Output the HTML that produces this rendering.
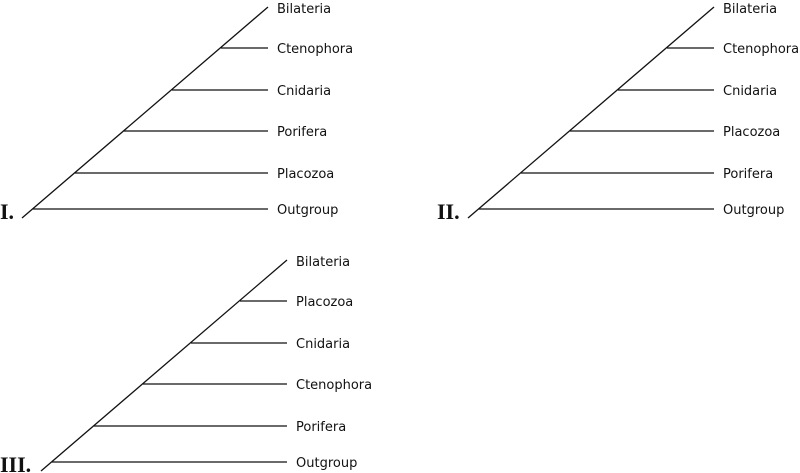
<!DOCTYPE html>
<html><head><meta charset="utf-8"><style>
html,body{margin:0;padding:0;background:#fff;width:800px;height:473px;overflow:hidden}
svg text{font-family:"DejaVu Sans","Liberation Sans",sans-serif;font-size:13px;fill:#111}
svg text.n{font-family:"Liberation Serif",serif;font-weight:bold;font-size:22px}
</style></head><body>
<svg width="800" height="473" viewBox="0 0 800 473">
<defs>
<g id="t" stroke="#111" stroke-width="1.3" fill="none">
<line x1="22" y1="218" x2="268" y2="7"/>
<line x1="33" y1="209" x2="268" y2="209"/>
<line x1="75" y1="173" x2="268" y2="173"/>
<line x1="124" y1="131" x2="268" y2="131"/>
<line x1="172" y1="90" x2="268" y2="90"/>
<line x1="221" y1="48" x2="268" y2="48"/>
</g>
</defs>
<use href="#t"/>
<use href="#t" transform="translate(446,0)"/>
<use href="#t" transform="translate(19,253)"/>
<g>
<text x="277" y="13">Bilateria</text>
<text x="277" y="53">Ctenophora</text>
<text x="277" y="95">Cnidaria</text>
<text x="277" y="136">Porifera</text>
<text x="277" y="178">Placozoa</text>
<text x="277" y="214">Outgroup</text>
<text class="n" x="0" y="219">I.</text>
</g>
<g transform="translate(446,0)">
<text x="277" y="13">Bilateria</text>
<text x="277" y="53">Ctenophora</text>
<text x="277" y="95">Cnidaria</text>
<text x="277" y="136">Placozoa</text>
<text x="277" y="178">Porifera</text>
<text x="277" y="214">Outgroup</text>
<text class="n" x="-9" y="219">II.</text>
</g>
<g transform="translate(19,253)">
<text x="277" y="13">Bilateria</text>
<text x="277" y="53">Placozoa</text>
<text x="277" y="95">Cnidaria</text>
<text x="277" y="136">Ctenophora</text>
<text x="277" y="178">Porifera</text>
<text x="277" y="214">Outgroup</text>
<text class="n" x="-19" y="219">III.</text>
</g>
</svg>
</body></html>
